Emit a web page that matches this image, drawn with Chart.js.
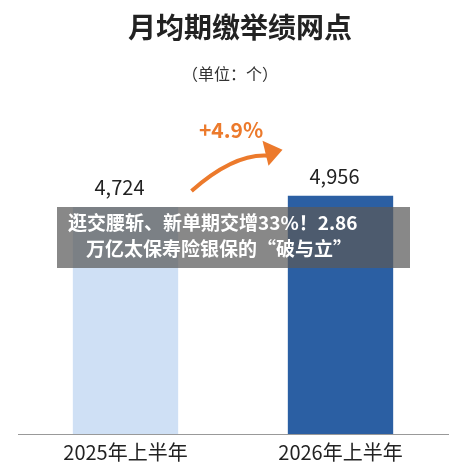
<!DOCTYPE html>
<html><head><meta charset="utf-8">
<script src="https://cdn.jsdelivr.net/npm/chart.js@4"></script>
<style>html,body{margin:0;background:#fff}#wrap{width:470px;height:474px}</style>
</head><body><div id="wrap"><canvas id="c"></canvas></div>
<script>
const categories = ['2025年上半年', '2026年上半年'];
const values = [4724, 4956];
const valueLabels = ['4,724', '4,956'];
const growthLabel = '+4.9%';
const titleText = '月均期缴举绩网点';
const unitText = '（单位：个）';
const bannerLines = ['逛交腰斩、新单期交增33%！2.86', '万亿太保寿险银保的“破与立”'];

const FONT = '"Noto Sans CJK SC", "Noto Sans", sans-serif';

const decor = {
  id: 'decor',
  afterDatasetsDraw(chart) {
    const { ctx } = chart;
    const meta = chart.getDatasetMeta(0);
    ctx.save();
    ctx.textAlign = 'center';
    ctx.fillStyle = '#222';
    ctx.font = 'bold 28px ' + FONT;
    ctx.fillText(titleText, 240, 38);
    ctx.font = '16px ' + FONT;
    ctx.fillStyle = '#333';
    ctx.fillText(unitText, 230, 80);
    // value labels
    ctx.font = '20px ' + FONT;
    ctx.fillStyle = '#222';
    meta.data.forEach((b, i) => ctx.fillText(valueLabels[i], b.x - 6, b.y - 12));
    // arrow
    const a = meta.data[0], b = meta.data[1];
    ctx.strokeStyle = '#ec7a2c';
    ctx.lineWidth = 4;
    ctx.beginPath();
    ctx.moveTo(a.x + 66, a.y - 16);
    ctx.quadraticCurveTo(a.x + 110, a.y - 55, b.x - 70, b.y - 40);
    ctx.stroke();
    ctx.fillStyle = '#ec7a2c';
    ctx.beginPath();
    ctx.moveTo(b.x - 58, b.y - 46);
    ctx.lineTo(b.x - 78, b.y - 55);
    ctx.lineTo(b.x - 72, b.y - 30);
    ctx.closePath();
    ctx.fill();
    ctx.font = 'bold 21px ' + FONT;
    ctx.fillText(growthLabel, 231, 138);
    // banner
    ctx.fillStyle = 'rgba(90,90,90,0.72)';
    ctx.fillRect(57, 207, 353, 61);
    ctx.fillStyle = '#fff';
    ctx.textAlign = 'left';
    ctx.font = 'bold 19px ' + FONT;
    ctx.fillText(bannerLines[0], 68, 230);
    ctx.fillText(bannerLines[1], 86, 256);
    ctx.restore();
  }
};

new Chart(document.getElementById('c'), {
  type: 'bar',
  data: {
    labels: categories,
    datasets: [{
      data: values,
      backgroundColor: ['#cfe0f5', '#2b5fa3'],
      barPercentage: 0.98,
      categoryPercentage: 0.5
    }]
  },
  options: {
    responsive: true,
    maintainAspectRatio: false,
    animation: false,
    layout: { padding: { top: 100, left: 18, right: 22, bottom: 4 } },
    plugins: { legend: { display: false }, tooltip: { enabled: false } },
    scales: {
      y: { display: false, min: 0, max: 6950 },
      x: {
        grid: { display: false, drawTicks: false },
        border: { color: '#999', width: 1 },
        ticks: { color: '#222', font: { size: 20, family: FONT }, padding: 6 }
      }
    }
  },
  plugins: [decor]
});
</script></body></html>
